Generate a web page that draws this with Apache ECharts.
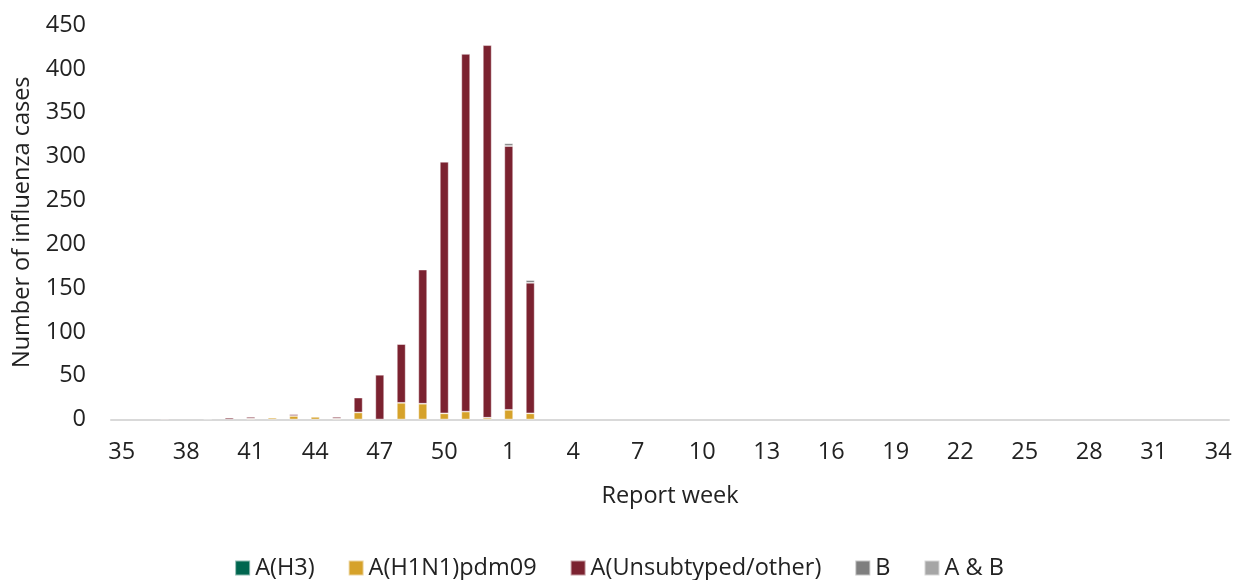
<!DOCTYPE html>
<html>
<head>
<meta charset="utf-8">
<script src="https://cdn.jsdelivr.net/npm/echarts@6/dist/echarts.min.js"></script>
<style>html,body{margin:0;padding:0;background:#fff}#c{width:1238px;height:580px}</style>
</head>
<body>
<div id="c"></div>
<script>
const weeks = [35,36,37,38,39,40,41,42,43,44,45,46,47,48,49,50,51,52,1,2,3,4,5,6,7,8,9,10,11,12,13,14,15,16,17,18,19,20,21,22,23,24,25,26,27,28,29,30,31,32,33,34];
const seriesNames = ['A(H3)','A(H1N1)pdm09','A(Unsubtyped/other)','B','A & B'];
const aH3 =     [0,0,0,0,0,0,0,0,0,0,0,0,0,0,0,0,0,0,0,0,0,0,0,0,0,0,0,0,0,0,0,0,0,0,0,0,0,0,0,0,0,0,0,0,0,0,0,0,0,0,0,0];
const aH1N1 =   [0,0,0,0,0,0,1,2,4,3,1,8,0,19,18,7,9,2,11,7,0,0,0,0,0,0,0,0,0,0,0,0,0,0,0,0,0,0,0,0,0,0,0,0,0,0,0,0,0,0,0,0];
const aUnsub =  [0,0,1,0,0,2,2,0,2,0,2,17,51,67,153,287,408,425,301,149,0,0,0,0,0,0,0,0,0,0,0,0,0,0,0,0,0,0,0,0,0,0,0,0,0,0,0,0,0,0,0,0];
const bVals =   [0,0,0,0,1,0,0,0,0,0,0,0,0,0,0,0,1,0,3,3,0,0,0,0,0,0,0,0,0,0,0,0,0,0,0,0,0,0,0,0,0,0,0,0,0,0,0,0,0,0,0,0];
const abVals =  [0,0,0,0,0,0,0,0,0,0,0,0,0,0,0,0,0,0,0,0,0,0,0,0,0,0,0,0,0,0,0,0,0,0,0,0,0,0,0,0,0,0,0,0,0,0,0,0,0,0,0,0];
const colors = ['#00664F','#D6A22A','#7B2230','#7F7F7F','#A6A6A6'];
const yTicks = [0,50,100,150,200,250,300,350,400,450];

const allData = [aH3,aH1N1,aUnsub,bVals,abVals];
const font = '"Open Sans", "Noto Sans", sans-serif';
const chart = echarts.init(document.getElementById('c'), null, {renderer:'canvas'});
chart.setOption({
  animation:false,
  textStyle:{fontFamily:font},
  color:colors,
  grid:{left:111,right:9,top:25,bottom:160.5,containLabel:false},
  legend:{
    bottom:-5,left:'center',itemWidth:15,itemHeight:15,itemGap:33,
    icon:'rect',
    textStyle:{fontSize:23.5,color:'#222',fontFamily:font},
    data:seriesNames
  },
  xAxis:{
    type:'category',data:weeks.map(String),
    name:'Report week',nameLocation:'middle',nameGap:65,
    nameTextStyle:{fontSize:23.5,color:'#222',fontFamily:font},
    axisLine:{lineStyle:{color:'#d9d9d9',width:2}},
    axisTick:{show:false},
    axisLabel:{interval:2,fontSize:23.5,color:'#222',margin:21,fontFamily:font}
  },
  yAxis:{
    type:'value',min:yTicks[0],max:yTicks[yTicks.length-1],interval:50,
    name:'Number of influenza cases',nameLocation:'middle',nameGap:77,
    nameTextStyle:{fontSize:23.5,color:'#222',fontFamily:font},
    axisLine:{show:false},axisTick:{show:false},
    splitLine:{show:false},
    axisLabel:{fontSize:23.5,color:'#222',margin:25,fontFamily:font}
  },
  series: seriesNames.map((n,i)=>({
    name:n,type:'bar',stack:'t',barWidth:'41%',
    itemStyle:{color:colors[i],borderColor:'rgba(255,255,255,0.55)',borderWidth:0.8},
    data: allData[i].map(v=> v===0 ? null : v)
  }))
});
</script>
</body>
</html>
